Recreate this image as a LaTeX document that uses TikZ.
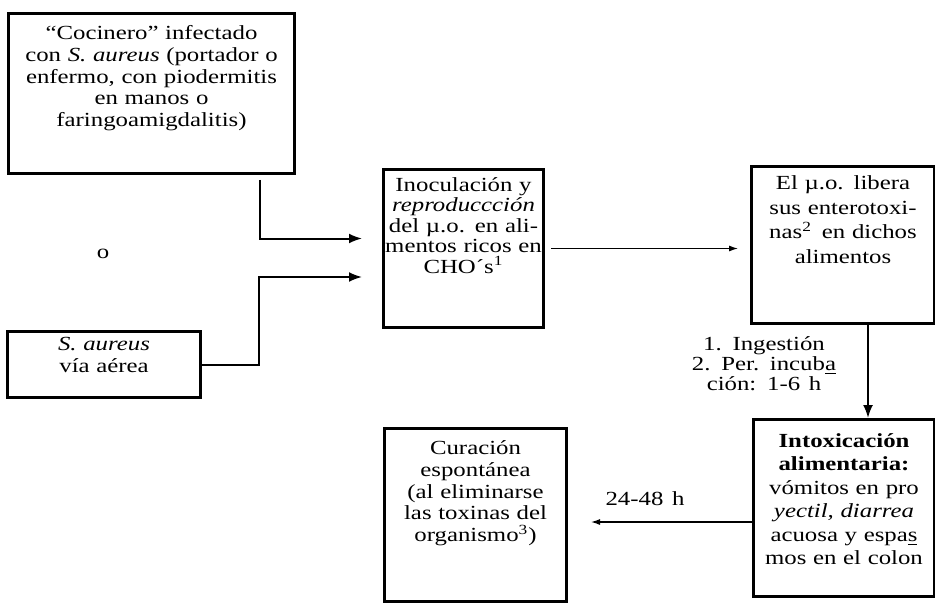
\documentclass[tikz,border=0pt]{standalone}
\usepackage{fontspec}
\setmainfont{Liberation Serif}[FakeStretch=1.24, WordSpace=1.4]
\usepackage{tikz}
\usetikzlibrary{arrows.meta,calc}

\newcommand{\letra}{\fontsize{10pt}{10.9pt}\selectfont}

\begin{document}
\begin{tikzpicture}[
		x=0.5pt,y=-0.5pt,
		>=Latex,
		every node/.style={font=\letra},
		caja/.style={draw, line width=1.5pt, inner sep=0pt, align=center, anchor=north west},
		flecha/.style={-{Latex[length=6.5pt,width=5pt]}, line width=1pt},
		flechita/.style={-{Latex[length=4.5pt,width=3pt]}, line width=0.6pt}
		]
		\useasboundingbox (0,0) rectangle (935,609);
		
		% =========================
		% Left: sources of contamination
		% =========================
		\node[caja, text width=143pt, text height=13pt, text depth=67pt] (cocinero) at (7,12)
		{“Cocinero” infectado\\con \textit{S. aureus} (portador o\\enfermo, con piodermitis\\en manos o\\faringoamigdalitis)};
		
		\node (o) at (103,254) {o};
		
		\node[caja, text width=96.5pt, text height=9.5pt, text depth=23.5pt] (aire) at (6,330)
		{\textit{S. aureus}\\vía aérea};
		
		% =========================
		% Middle and right: food chain
		% =========================
		\node[caja, text width=80pt, text height=11pt, text depth=68pt,
		font=\fontsize{10pt}{10.2pt}\selectfont] (inoculacion) at (382,168)
		{Inoculación y\\\textit{reproduccción}\\del µ.o. en ali-\\mentos ricos en\\CHO´s\textsuperscript{1}};
		
		\node[caja, text width=91.5pt, text height=11.5pt, text depth=67pt,
		font=\fontsize{10pt}{12.3pt}\selectfont] (libera) at (750,165)
		{El µ.o. libera\\sus enterotoxi-\\nas\textsuperscript{2}\, en dichos\\alimentos};
		
		\node[caja, text width=90.5pt, text height=14pt, text depth=74.5pt,
		font=\fontsize{10pt}{11.7pt}\selectfont] (intox) at (752,418)
		{\textbf{Intoxicación}\\\textbf{alimentaria:}\\vómitos en pro\\\textit{yectil, diarrea}\\acuosa y espa\underline{s}\\mos en el colon};
		
		\node[caja, text width=91pt, text height=13pt, text depth=73.5pt] (curacion) at (383,427)
		{Curación\\espontánea\\(al eliminarse\\las toxinas del\\organismo\textsuperscript{3})};
		
		% connectors
		\coordinate (salida) at (260,180);
		\coordinate (codo) at (259,277);
		\coordinate (baja) at (868,0);
		\coordinate (nivel) at (0,522);
		
		\draw[flecha, shorten >=10pt] (salida) |- ([yshift=5pt]inoculacion.west);
		\draw[flecha, shorten >=10pt] (aire.east) -| (codo) -- (codo -| inoculacion.west);
		\draw[flechita, shorten <=3pt, shorten >=6pt] (inoculacion.east) -- (inoculacion.east -| libera.west);
		\draw[flecha] (libera.south -| baja) -- (intox.north -| baja);
		\draw[flechita, shorten >=11.5pt] (intox.west |- nivel) -- (curacion.east |- nivel);
		
		% labels
		\node[align=center, font=\fontsize{10pt}{10pt}\selectfont] (pasos) at (764,364) {1. Ingestión\\2. Per. incub\underline{a}\\ción: 1-6 h};
		\node (horas) at (645,499) {24-48 h};
	\end{tikzpicture}
\end{document}
